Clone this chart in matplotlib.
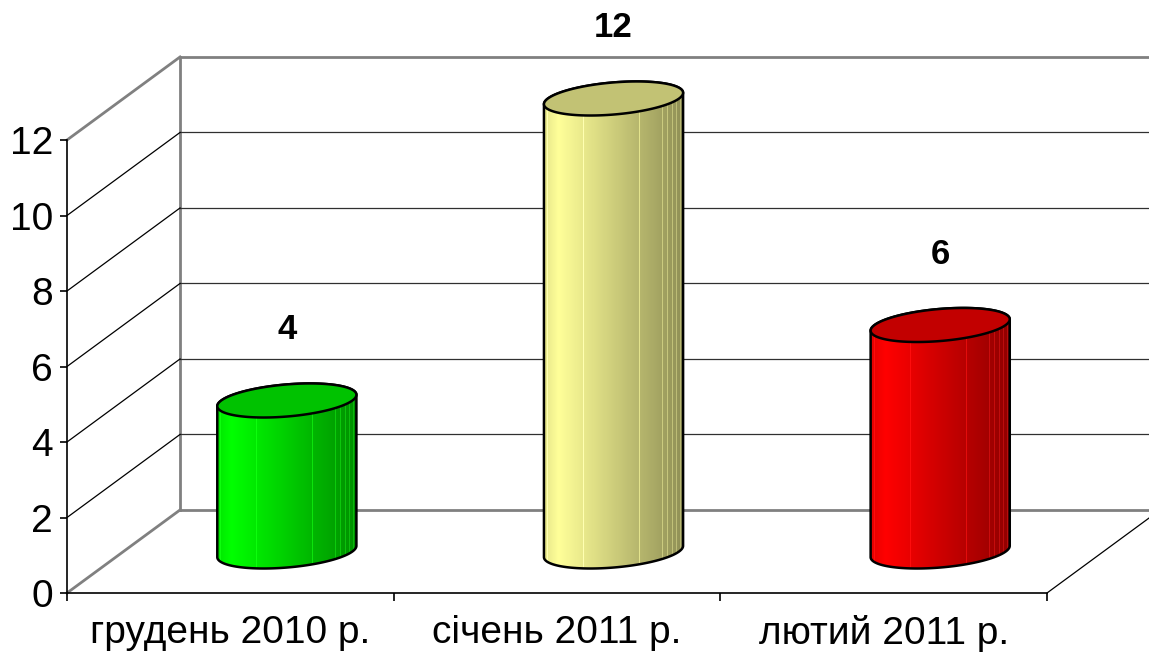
import numpy as np
import matplotlib
matplotlib.use("Agg")
import matplotlib.pyplot as plt
from matplotlib.patches import Polygon
from matplotlib.colors import to_rgb

plt.rcParams['font.family'] = ['Liberation Sans', 'DejaVu Sans']

# ---- data ----
categories = ["грудень 2010 р.", "січень 2011 р.", "лютий 2011 р."]
values = [4, 12, 6]
colors = ["#00ff00", "#ffff99", "#ff0000"]
yticks = [0, 2, 4, 6, 8, 10, 12]

# ---- 3D geometry (oblique projection) ----
DX, DY = 0.346, 2.2          # depth offset in data units
YMAX = 12
NCAT = len(categories)
R = 0.2008                   # cylinder radius along x
RD = 0.205                   # cylinder radius along depth (fraction of depth)

fig = plt.figure(figsize=(11.49, 6.52), dpi=100)
ax = fig.add_axes([0, 0, 1, 1])
XL = (-0.2051, 3.3122)
YL = (-1.563, 15.709)

gray = "#808080"
# walls / floor edges (gray)
ax.plot([DX, NCAT + DX], [YMAX + DY, YMAX + DY], color=gray, lw=2, zorder=1)
ax.plot([DX, DX], [DY, YMAX + DY], color=gray, lw=2, zorder=1)
ax.plot([DX, NCAT + DX], [DY, DY], color=gray, lw=2, zorder=1)
ax.plot([0, DX], [YMAX, YMAX + DY], color=gray, lw=2, zorder=1)
ax.plot([0, DX], [0, DY], color=gray, lw=2, zorder=1)
# floor right edge
ax.plot([NCAT, NCAT + DX], [0, DY], color="black", lw=0.9, zorder=1)
# gridlines
for v in yticks[1:-1]:
    ax.plot([DX, NCAT + DX], [v + DY, v + DY], color="#303030", lw=0.9, zorder=1)
    ax.plot([0, DX], [v, v + DY], color="black", lw=0.9, zorder=1)


def shade(base, n):
    t = np.linspace(0, 1, n)
    lum = np.interp(t, [0, 0.1, 0.35, 0.65, 0.8, 1.0], [0.9, 1.0, 0.88, 0.73, 0.66, 0.56])
    stripes = [0.02, 0.28, 0.68, 0.85, 0.885, 0.92, 0.95, 0.975]
    img = np.array(base)[None, :] * lum[:, None]
    for s in stripes:
        k = int(round(s * (n - 1)))
        img[k] = np.clip(img[k] * 1.18 + 0.05, 0, 1)
    return np.clip(img, 0, 1)[None, :, :]


thR = np.arctan2(DX * RD, R)
for i, (v, c) in enumerate(zip(values, colors)):
    cx = i + 0.5 + 0.5 * DX
    cy0 = 0.5 * DY
    cy1 = v + 0.5 * DY
    a_ = np.array([R, 0.0])
    b_ = np.array([DX * RD, DY * RD])

    def ell(cy, th):
        return np.column_stack([cx + a_[0] * np.cos(th) + b_[0] * np.sin(th),
                                cy + a_[1] * np.cos(th) + b_[1] * np.sin(th)])

    th_front = np.linspace(thR + np.pi, thR + 2 * np.pi, 120)
    th_back = np.linspace(thR, thR + np.pi, 120)
    body = np.vstack([ell(cy0, th_front), ell(cy1, th_back)])
    poly = Polygon(body, closed=True, facecolor="none", edgecolor="black", lw=1.8, zorder=4)
    ax.add_patch(poly)
    hx = np.hypot(R, DX * RD)
    img = shade(to_rgb(c), 140)
    im = ax.imshow(img, extent=[cx - hx, cx + hx, cy0 - DY * RD, cy1 + DY * RD],
                   aspect="auto", interpolation="nearest", zorder=3)
    clip = Polygon(body, closed=True, transform=ax.transData)
    im.set_clip_path(clip)
    top = ell(cy1, np.linspace(0, 2 * np.pi, 200))
    topc = tuple(np.array(to_rgb(c)) * 0.76)
    ax.add_patch(Polygon(top, closed=True, facecolor=topc, edgecolor="black", lw=1.8, zorder=5))
    ax.text(cx, cy1 + 1.88, str(v), ha="center", va="center", fontsize=25,
            fontweight="bold", zorder=6)

# axes: front spines
for s in ["top", "right"]:
    ax.spines[s].set_visible(False)
ax.spines["left"].set_position(("data", 0))
ax.spines["left"].set_bounds(0, YMAX)
ax.spines["bottom"].set_position(("data", 0))
ax.spines["bottom"].set_bounds(0, NCAT)
for s in ["left", "bottom"]:
    ax.spines[s].set_linewidth(1.2)
    ax.spines[s].set_zorder(2)

ax.set_yticks(yticks)
ax.set_yticklabels([str(t) for t in yticks])
ax.tick_params(axis="y", direction="out", length=5, width=1.2, labelsize=28, pad=5)
ax.set_xticks(range(NCAT + 1))
ax.set_xticklabels([""] * (NCAT + 1))
ax.set_xticks([i + 0.5 for i in range(NCAT)], minor=True)
ax.set_xticklabels(categories, minor=True)
ax.tick_params(axis="x", which="major", direction="out", length=6, width=1.2)
ax.tick_params(axis="x", which="minor", length=0, labelsize=28, pad=16)

ax.set_xlim(*XL)
ax.set_ylim(*YL)
ax.patch.set_alpha(0)
fig.savefig("out.png", dpi=100, facecolor="white")
